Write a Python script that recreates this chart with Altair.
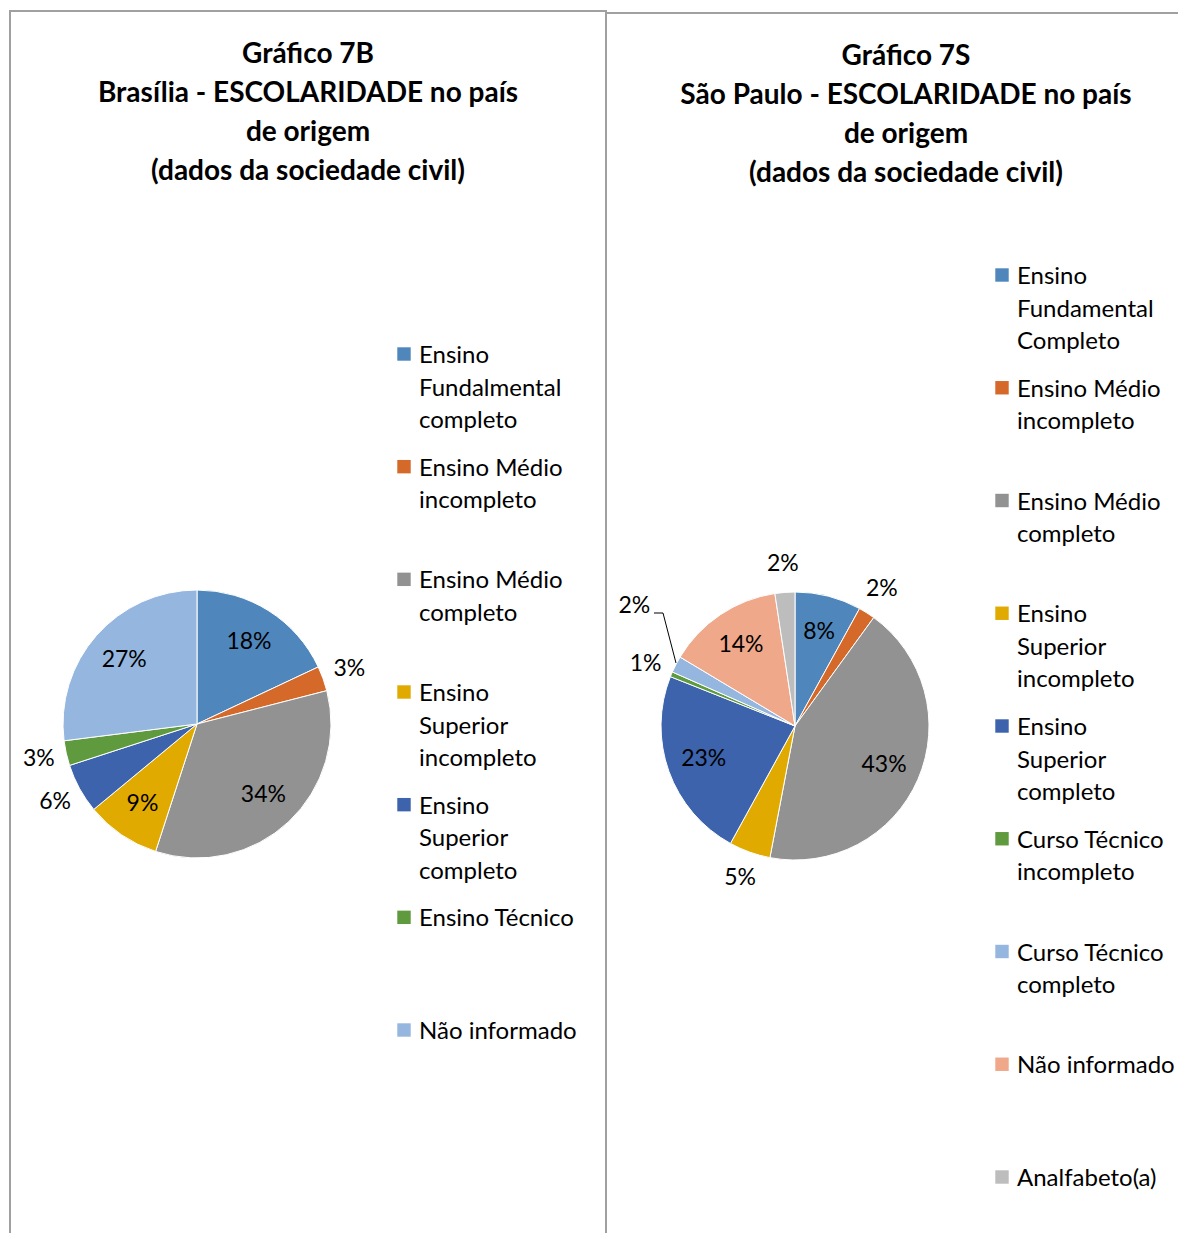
import altair as alt
import pandas as pd

# ---------------- data: Brasília ----------------
bsb_title = ["Gráfico 7B", "Brasília - ESCOLARIDADE no país", "de origem", "(dados da sociedade civil)"]
bsb_categories = [
    "Ensino Fundalmental completo", "Ensino Médio incompleto", "Ensino Médio completo",
    "Ensino Superior incompleto", "Ensino Superior completo", "Ensino Técnico", "Não informado",
]
bsb_legend = [
    "Ensino\nFundalmental\ncompleto", "Ensino Médio\nincompleto", "Ensino Médio\ncompleto",
    "Ensino\nSuperior\nincompleto", "Ensino\nSuperior\ncompleto", "Ensino Técnico", "Não informado",
]
bsb_values = [18, 3, 34, 9, 6, 3, 27]
bsb_value_labels = ["18%", "3%", "34%", "9%", "6%", "3%", "27%"]
bsb_label_place = ["in", "out", "in", "in", "out", "out", "in"]
bsb_colors = ["#4F87BC", "#D4692A", "#929292", "#E0AA00", "#3C63AC", "#5F9A3E", "#95B7DF"]

# ---------------- data: São Paulo ----------------
sp_title = ["Gráfico 7S", "São Paulo - ESCOLARIDADE no país", "de origem", "(dados da sociedade civil)"]
sp_categories = [
    "Ensino Fundamental Completo", "Ensino Médio incompleto", "Ensino Médio completo",
    "Ensino Superior incompleto", "Ensino Superior completo", "Curso Técnico incompleto",
    "Curso Técnico completo", "Não informado", "Analfabeto(a)",
]
sp_legend = [
    "Ensino\nFundamental\nCompleto", "Ensino Médio\nincompleto", "Ensino Médio\ncompleto",
    "Ensino\nSuperior\nincompleto", "Ensino\nSuperior\ncompleto", "Curso Técnico\nincompleto",
    "Curso Técnico\ncompleto", "Não informado", "Analfabeto(a)",
]
sp_values = [8, 2, 43, 5, 23, 0.6, 2, 14, 2.4]
sp_value_labels = ["8%", "2%", "43%", "5%", "23%", "1%", "2%", "14%", "2%"]
sp_label_place = ["in", "out", "in", "out", "in", "out", "lead", "in", "out"]
sp_colors = ["#4F87BC", "#D4692A", "#929292", "#E0AA00", "#3C63AC", "#5F9A3E", "#95B7DF", "#F0A88A", "#BDBDBD"]

FONT = "Lato"
PANEL_H = 1225
BORDER = "#A0A0A0"


def panel(title, cats, legend, values, vlabels, places, colors, width, top, legend_range,
          right_border, left_border, leader=None):
    n = len(cats)
    df = pd.DataFrame({
        "idx": list(range(n)), "cat": cats, "value": values, "pct": vlabels,
        "place": places, "legend": legend,
    })
    cx, cy = alt.value(188), alt.value(top + 716)
    base = alt.Chart(df)
    theta = alt.Theta("value:Q", stack=True)
    order = alt.Order("idx:Q")
    color = alt.Color("cat:N", scale=alt.Scale(domain=cats, range=colors), legend=None)

    pie = base.mark_arc(radius=134, stroke="white", strokeWidth=1).encode(
        theta=theta, color=color, order=order, x=cx, y=cy)

    def label_layer(place, r, dx=0, dy=0):
        return base.transform_calculate(
            t=f"datum.place == '{place}' ? datum.pct : ''",
        ).mark_text(font=FONT, fontSize=23, color="black", radius=r, dx=dx, dy=dy).encode(
            theta=theta, order=order, text="t:N", x=cx, y=cy)

    lab_in = label_layer("in", 97)
    lab_out = label_layer("out", 162)
    lab_lead = label_layer("lead", 200, 17, -28)

    leg_y = alt.Y("cat:N", scale=alt.Scale(type="point", domain=cats, range=legend_range, padding=0),
                  axis=None)
    squares = base.mark_square(size=180, filled=True, opacity=1).encode(
        x=alt.value(395), y=leg_y, color=color)
    texts = base.mark_text(font=FONT, fontSize=24, align="left", baseline="top", lineBreak="\n",
                           lineHeight=32.5, dy=-10, color="black").encode(
        x=alt.value(410), y=leg_y, text="legend:N")

    one = alt.Chart(pd.DataFrame({"t": ["\n".join(title)]}))
    ttl = one.mark_text(font=FONT, fontSize=28, fontWeight="bold", baseline="top", align="center",
                        lineBreak="\n", lineHeight=39, color="black").encode(
        x=alt.value(299), y=alt.value(top + 33), text="t:N")

    layers = [pie, lab_in, lab_out, lab_lead, squares, texts, ttl]
    layers.append(one.mark_rule(color=BORDER, strokeWidth=2).encode(
        x=alt.value(0), x2=alt.value(width), y=alt.value(top + 3)))
    if left_border:
        layers.append(one.mark_rule(color=BORDER, strokeWidth=2).encode(
            x=alt.value(1), y=alt.value(top + 3), y2=alt.value(PANEL_H)))
    if right_border:
        layers.append(one.mark_rule(color=BORDER, strokeWidth=2).encode(
            x=alt.value(width - 1), y=alt.value(top + 3), y2=alt.value(PANEL_H)))
    if leader:
        for (x1, y1, x2, y2) in leader:
            layers.append(one.mark_rule(color="black", strokeWidth=1).encode(
                x=alt.value(x1), y=alt.value(y1), x2=alt.value(x2), y2=alt.value(y2)))
    return alt.layer(*layers).properties(width=width, height=PANEL_H)


left = panel(bsb_title, bsb_categories, bsb_legend, bsb_values, bsb_value_labels, bsb_label_place,
             bsb_colors, 598, 0, [346, 1022], True, True)
right = panel(sp_title, sp_categories, sp_legend, sp_values, sp_value_labels, sp_label_place,
              sp_colors, 571, 2, [267, 1169], False, False,
              leader=[(47, 605, 56, 605), (56, 605, 69, 655)])

chart = alt.hconcat(left, right, spacing=0, bounds="flush").resolve_scale(
    color="independent", y="independent", theta="independent"
).properties(
    padding={"left": 0, "top": 0, "right": 0, "bottom": 0},
    background="white",
).configure_view(stroke=None)

chart.save("out.html", embed_options={"renderer": "svg", "actions": False})
